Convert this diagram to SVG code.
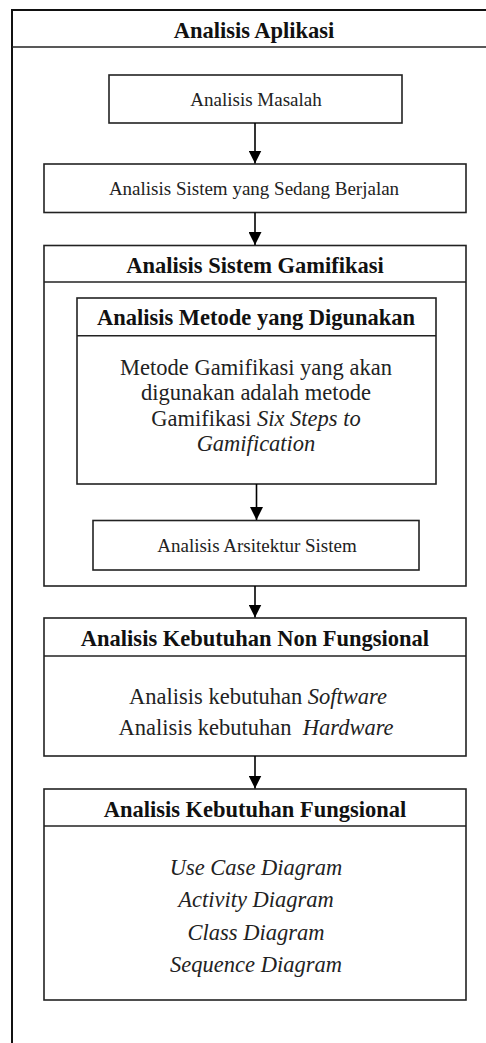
<svg xmlns="http://www.w3.org/2000/svg" width="486" height="1043" viewBox="0 0 486 1043">
<style>
.box{fill:#fff;stroke:#222;stroke-width:1.6}
.sep{stroke:#222;stroke-width:1.6;fill:none}
.ttl{font-family:"Liberation Serif","Times New Roman",serif;font-weight:bold;font-size:22.5px;fill:#111;text-anchor:middle}
.lbl{font-family:"Liberation Serif","Times New Roman",serif;font-size:19px;fill:#222;text-anchor:middle}
.body{font-family:"Liberation Serif","Times New Roman",serif;font-size:22.5px;fill:#222;text-anchor:middle}
.it{font-style:italic}
.conn{stroke:#000;stroke-width:1.6;fill:none}
</style>
<defs>
<marker id="ah" markerWidth="13" markerHeight="13" refX="13" refY="6.5" orient="auto" markerUnits="userSpaceOnUse">
<path d="M0,0 L13,6.5 L0,13 Z" fill="#000"/>
</marker>
</defs>
<g id="frame">
<rect x="12" y="10" width="500" height="1050" fill="#fff" stroke="#111" stroke-width="2"/>
<line class="sep" x1="12" y1="47" x2="486" y2="47"/>
<text class="ttl" x="254" y="37.5">Analisis Aplikasi</text>
</g>
<g id="masalah">
<rect class="box" x="109" y="75" width="293" height="48"/>
<text class="lbl" x="256" y="105.5">Analisis Masalah</text>
</g>
<g id="berjalan">
<rect class="box" x="44" y="164" width="422" height="48.5"/>
<text class="lbl" x="254" y="195">Analisis Sistem yang Sedang Berjalan</text>
</g>
<g id="gamifikasi">
<rect class="box" x="44" y="245.5" width="422" height="340.5"/>
<line class="sep" x1="44" y1="282" x2="466" y2="282"/>
<text class="ttl" x="255" y="272.5">Analisis Sistem Gamifikasi</text>
</g>
<g id="metode">
<rect class="box" x="77" y="298" width="359" height="186"/>
<line class="sep" x1="77" y1="335.7" x2="436" y2="335.7"/>
<text class="ttl" x="256" y="325">Analisis Metode yang Digunakan</text>
<text class="body" x="256" y="375">Metode Gamifikasi yang akan</text>
<text class="body" x="256" y="400">digunakan adalah metode</text>
<text class="body" x="256" y="425.5">Gamifikasi <tspan class="it">Six Steps to</tspan></text>
<text class="body it" x="256" y="450.5">Gamification</text>
</g>
<g id="arsitektur">
<rect class="box" x="93" y="520.5" width="326" height="49.5"/>
<text class="lbl" x="257" y="552">Analisis Arsitektur Sistem</text>
</g>
<g id="nonfungsional">
<rect class="box" x="44" y="618" width="422" height="138"/>
<line class="sep" x1="44" y1="656" x2="466" y2="656"/>
<text class="ttl" x="255" y="645.5">Analisis Kebutuhan Non Fungsional</text>
<text class="body" x="258" y="704">Analisis kebutuhan <tspan class="it">Software</tspan></text>
<text class="body" x="256" y="735" xml:space="preserve">Analisis kebutuhan  <tspan class="it">Hardware</tspan></text>
</g>
<g id="fungsional">
<rect class="box" x="44" y="789" width="422" height="211"/>
<line class="sep" x1="44" y1="826" x2="466" y2="826"/>
<text class="ttl" x="255" y="816.5">Analisis Kebutuhan Fungsional</text>
<text class="body it" x="256" y="874.5">Use Case Diagram</text>
<text class="body it" x="256" y="906.5">Activity Diagram</text>
<text class="body it" x="256" y="940">Class Diagram</text>
<text class="body it" x="256" y="972">Sequence Diagram</text>
</g>
<g id="connectors">
<line class="conn" x1="255" y1="123" x2="255" y2="163.5" marker-end="url(#ah)"/>
<line class="conn" x1="255" y1="212.5" x2="255" y2="245" marker-end="url(#ah)"/>
<line class="conn" x1="256.5" y1="484" x2="256.5" y2="520" marker-end="url(#ah)"/>
<line class="conn" x1="255" y1="586" x2="255" y2="617.5" marker-end="url(#ah)"/>
<line class="conn" x1="255" y1="756" x2="255" y2="788.5" marker-end="url(#ah)"/>
</g>
</svg>
